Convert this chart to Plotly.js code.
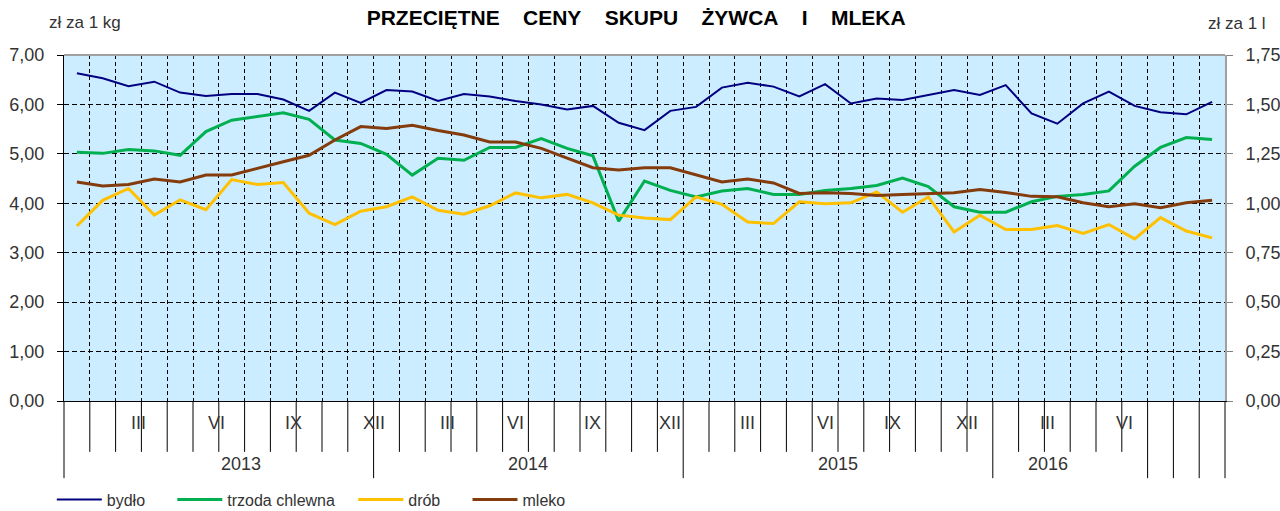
<!DOCTYPE html>
<html>
<head>
<meta charset="utf-8">
<script src="https://cdn.plot.ly/plotly-3.0.1.min.js"></script>
<style>html,body{margin:0;padding:0;background:#fff;}#chart{width:1280px;height:511px;}</style>
</head>
<body>
<div id="chart"></div>
<script>
// months: I 2013 .. IX 2016
const years = ['2013', '2014', '2015', '2016'];
const monthLabels = ['', '', 'III', '', '', 'VI', '', '', 'IX', '', '', 'XII'];
const seriesNames = ['bydło', 'trzoda chlewna', 'drób', 'mleko'];

const bydlo = [6.63,6.53,6.37,6.46,6.24,6.17,6.21,6.21,6.10,5.87,6.24,6.03,
               6.29,6.26,6.07,6.21,6.16,6.07,6.00,5.90,5.97,5.63,5.48,5.87,
               5.95,6.34,6.44,6.36,6.16,6.41,6.02,6.12,6.09,6.19,6.29,6.19,
               6.39,5.82,5.61,6.02,6.26,5.97,5.84,5.80,6.05];
const trzoda = [5.03,5.01,5.09,5.06,4.97,5.45,5.68,5.75,5.83,5.70,5.28,5.21,
                4.99,4.57,4.91,4.87,5.13,5.13,5.31,5.11,4.96,3.64,4.45,4.26,
                4.13,4.25,4.30,4.18,4.18,4.26,4.30,4.36,4.51,4.34,3.93,3.82,
                3.82,4.03,4.14,4.18,4.25,4.75,5.13,5.33,5.29];
const drob = [3.54,4.06,4.30,3.76,4.07,3.87,4.48,4.38,4.42,3.80,3.57,3.84,
              3.93,4.13,3.86,3.78,3.95,4.21,4.11,4.18,4.01,3.76,3.70,3.67,
              4.13,3.98,3.62,3.59,4.03,3.99,4.01,4.23,3.82,4.13,3.42,3.76,
              3.47,3.47,3.55,3.39,3.57,3.28,3.71,3.44,3.30];
// mleko in zł za 1 l (right axis)
const mleko = [1.108,1.088,1.095,1.123,1.108,1.143,1.143,1.175,1.210,1.243,1.320,1.388,
               1.378,1.395,1.368,1.345,1.310,1.310,1.278,1.228,1.180,1.168,1.180,1.180,
               1.145,1.108,1.123,1.103,1.050,1.053,1.050,1.040,1.045,1.050,1.053,1.070,
               1.055,1.035,1.033,1.003,0.983,0.998,0.978,1.003,1.015];

const n = bydlo.length;
const idx = bydlo.map((_, i) => i);

const FONT = 'Liberation Sans, Arial, sans-serif';
const TXT = '#333333';
const NB = '\u00a0';
const pad = (s, k) => s + NB.repeat(k);

const traces = [
  {x: idx, y: bydlo, name: pad(seriesNames[0], 5), mode: 'lines', line: {color: '#000080', width: 2}},
  {x: idx, y: trzoda, name: pad(seriesNames[1], 3), mode: 'lines', line: {color: '#00B050', width: 3}},
  {x: idx, y: drob, name: pad(seriesNames[2], 5), mode: 'lines', line: {color: '#FFC000', width: 3}},
  {x: idx, y: mleko, name: seriesNames[3], mode: 'lines', yaxis: 'y2', line: {color: '#843C0C', width: 3}}
];

// category axis decorations (paper coords)
const shapes = [];
const annotations = [];
const yShort = -0.147, yLong = -0.223;
for (let k = 0; k <= n; k++) {
  const isYear = (k % 12 === 0) || k >= 42;
  shapes.push({type: 'line', xref: 'paper', yref: 'paper', x0: k / n, x1: k / n,
               y0: 0, y1: isYear ? yLong : yShort, line: {color: '#000000', width: 1}});
}
// month labels
for (let i = 0; i < n; i++) {
  const m = i % 12;
  const yr = Math.floor(i / 12);
  if (monthLabels[m] && !(yr === 3 && m > 5)) {
    annotations.push({xref: 'paper', yref: 'paper', x: (i + 0.5) / n, y: -0.064, yanchor: 'middle',
                      text: monthLabels[m], showarrow: false, font: {family: FONT, size: 18, color: TXT}});
  }
}
// year labels
years.forEach((yname, j) => {
  const start = j * 12;
  const end = j < 3 ? start + 12 : start + 6;
  annotations.push({xref: 'paper', yref: 'paper', x: (start + end) / 2 / n, y: -0.182, yanchor: 'middle',
                    text: yname, showarrow: false, font: {family: FONT, size: 18, color: TXT}});
});
// axis unit titles
annotations.push({xref: 'paper', yref: 'paper', x: -0.0145, y: 1.095, xanchor: 'left', yanchor: 'middle',
                  text: 'zł za 1 kg', showarrow: false, font: {family: FONT, size: 17, color: TXT}});
annotations.push({xref: 'paper', yref: 'paper', x: 0.984, y: 1.09, xanchor: 'left', yanchor: 'middle',
                  text: 'zł za 1 l', showarrow: false, font: {family: FONT, size: 17, color: TXT}});
// top border of plot area
shapes.push({type: 'line', xref: 'paper', yref: 'paper', x0: 0, x1: 1, y0: 1, y1: 1,
             line: {color: '#A0A0A0', width: 2}});

const boundaries = [];
for (let k = 1; k < n; k++) boundaries.push(k - 0.5);

const G = '\u00a0 \u00a0 ';
const layout = {
  width: 1280, height: 511,
  margin: {l: 64, r: 55, t: 55, b: 110, autoexpand: false},
  paper_bgcolor: '#ffffff',
  plot_bgcolor: '#CCECFF',
  separators: ', ',
  title: {text: 'PRZECIĘTNE' + G + 'CENY' + G + 'SKUPU' + G + 'ŻYWCA' + G + 'I' + G + 'MLEKA',
          x: 0.497, xanchor: 'center', y: 0.965, yanchor: 'middle',
          font: {family: FONT, size: 21, color: '#000000', weight: 'bold'}},
  showlegend: true,
  legend: {orientation: 'h', x: -0.0105, xanchor: 'left', y: -0.285, yanchor: 'middle', itemwidth: 45,
           font: {family: FONT, size: 16, color: TXT}, bgcolor: 'rgba(0,0,0,0)'},
  xaxis: {range: [-0.5, n - 0.5], tickmode: 'array', tickvals: boundaries, showticklabels: false,
          ticks: '', showgrid: true, gridcolor: '#000000', gridwidth: 1, griddash: '4px,3px',
          showline: true, linecolor: '#000000', linewidth: 1, zeroline: false, fixedrange: true},
  yaxis: {range: [0, 7], dtick: 1, tick0: 0, tickformat: '.2f', showgrid: true, gridcolor: '#000000',
          gridwidth: 1, griddash: '5px,3px', ticks: 'outside', ticklen: 6, tickcolor: '#000000',
          showline: true, linecolor: '#000000', linewidth: 1, zeroline: false, ticklabelstandoff: 9,
          tickfont: {family: FONT, size: 18, color: TXT}},
  yaxis2: {range: [0, 1.75], dtick: 0.25, tick0: 0, tickformat: '.2f', overlaying: 'y', side: 'right',
           showgrid: false, ticks: 'outside', ticklen: 6, tickcolor: '#808080', showline: true,
           linecolor: '#A0A0A0', linewidth: 2, zeroline: false, ticklabelstandoff: 9,
           tickfont: {family: FONT, size: 18, color: TXT}},
  shapes: shapes,
  annotations: annotations
};

Plotly.newPlot('chart', traces, layout, {displayModeBar: false, staticPlot: true});
</script>
</body>
</html>
